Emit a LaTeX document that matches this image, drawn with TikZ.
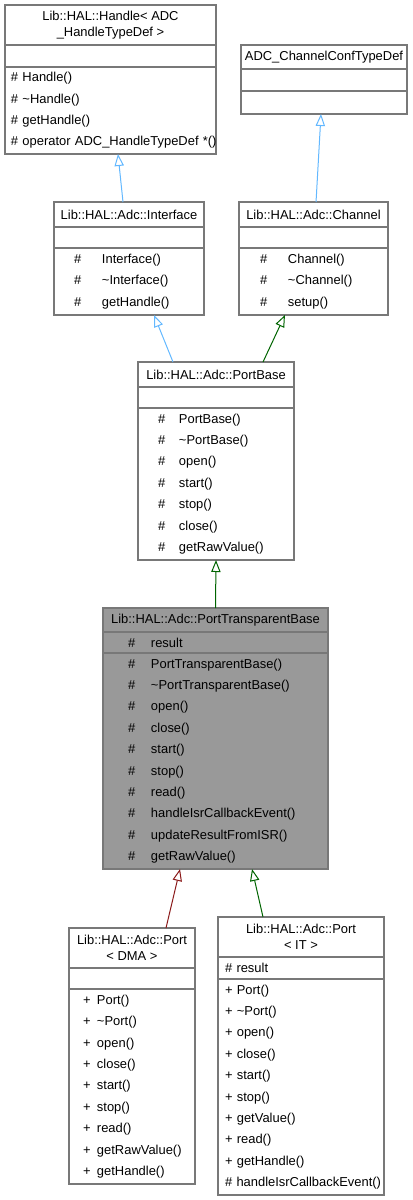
\documentclass[tikz,border=0pt]{standalone}
\usepackage{fontspec}
\setmainfont{Liberation Sans}
\usetikzlibrary{arrows.meta, positioning}
\definecolor{umlGray}{RGB}{120,120,120}
\definecolor{umlHighlight}{RGB}{153,153,153}
\definecolor{inhBlue}{RGB}{99,184,255}
\definecolor{inhGreen}{RGB}{0,100,0}
\definecolor{inhRed}{RGB}{139,26,26}
\newlength{\symgap}
\newcommand{\mrow}[2]{\makebox[\symgap][l]{#1}\mbox{#2}}

\begin{document}
\begin{tikzpicture}[
    x=0.75pt, y=-0.75pt,
    font=\fontsize{9.7}{16.05}\selectfont,
    box/.style     = {draw=umlGray, line width=0.9pt, fill=white,
                      anchor=north west, inner ysep=0pt, outer sep=0pt},
    title/.style 2 args = {box, minimum width=#1, minimum height=#2,
                      inner xsep=0pt, align=center,
                      font=\fontsize{9.7}{11.8}\selectfont},
    part/.style n args = {4}{box, minimum height=#1, text width=#2,
                      inner xsep=#3, align=left, colgap=#4},
    colgap/.code   = {\global\symgap=#1\relax},
    inherit/.style = {-{Triangle[length=9pt,width=7pt,fill=white]},
                      line width=0.75pt, draw=#1}
]
\useasboundingbox (0,0) rectangle (413,1200);

% Handle< ADC_HandleTypeDef >
\node[title={158.25pt}{30pt}] (hdlT) at (5,5) {Lib::HAL::Handle< ADC\\\_HandleTypeDef >};
\node[part={16.5pt}{149.25pt}{4.5pt}{0pt}] (hdlA) at (hdlT.south west) {};
\node[part={65.25pt}{149.25pt}{4.5pt}{0pt}] (hdlM) at (hdlA.south west)
    {\#~Handle()\\ \#~\textasciitilde Handle()\\ \#~getHandle()\\
     \mbox{\#~operator~ADC\_HandleTypeDef~*()}};

% ADC_ChannelConfTypeDef
\node[title={124.5pt}{18pt}] (chcT) at (241,45) {ADC\_ChannelConfTypeDef};
\node[part={16.5pt}{115.5pt}{4.5pt}{0pt}] (chcA) at (chcT.south west) {};
\node[part={17.25pt}{115.5pt}{4.5pt}{0pt}] (chcM) at (chcA.south west) {};

% Interface
\node[title={112.5pt}{18.75pt}] (ifT) at (54,202) {Lib::HAL::Adc::Interface};
\node[part={15.75pt}{82.5pt}{15pt}{21pt}] (ifA) at (ifT.south west) {};
\node[part={50.25pt}{82.5pt}{15pt}{21pt}] (ifM) at (ifA.south west)
    {\mrow{\#}{Interface()}\\ \mrow{\#}{\textasciitilde Interface()}\\ \mrow{\#}{getHandle()}};

% Channel
\node[title={111.75pt}{18.75pt}] (chT) at (239,202) {Lib::HAL::Adc::Channel};
\node[part={15.75pt}{80.25pt}{15.75pt}{21pt}] (chA) at (chT.south west) {};
\node[part={50.25pt}{80.25pt}{15.75pt}{21pt}] (chM) at (chA.south west)
    {\mrow{\#}{Channel()}\\ \mrow{\#}{\textasciitilde Channel()}\\ \mrow{\#}{setup()}};

% PortBase
\node[title={117pt}{18.75pt}] (pbT) at (138,362) {Lib::HAL::Adc::PortBase};
\node[part={15.75pt}{87pt}{15pt}{15.75pt}] (pbA) at (pbT.south west) {};
\node[part={114pt}{87pt}{15pt}{15.75pt}] (pbM) at (pbA.south west)
    {\mrow{\#}{PortBase()}\\ \mrow{\#}{\textasciitilde PortBase()}\\ \mrow{\#}{open()}\\
     \mrow{\#}{start()}\\ \mrow{\#}{stop()}\\ \mrow{\#}{close()}\\ \mrow{\#}{getRawValue()}};

% PortTransparentBase (the class this diagram is about)
\node[title={168.75pt}{18pt}, fill=umlHighlight] (ptbT) at (103,608) {Lib::HAL::Adc::PortTransparentBase};
\node[part={15.75pt}{131.25pt}{18.75pt}{17.25pt}, fill=umlHighlight] (ptbA) at (ptbT.south west)
    {\mrow{\#}{result}};
\node[part={162pt}{131.25pt}{18.75pt}{17.25pt}, fill=umlHighlight] (ptbM) at (ptbA.south west)
    {\mrow{\#}{PortTransparentBase()}\\ \mrow{\#}{\textasciitilde PortTransparentBase()}\\
     \mrow{\#}{open()}\\ \mrow{\#}{close()}\\ \mrow{\#}{start()}\\ \mrow{\#}{stop()}\\
     \mrow{\#}{read()}\\ \mrow{\#}{handleIsrCallbackEvent()}\\
     \mrow{\#}{updateResultFromISR()}\\ \mrow{\#}{getRawValue()}};

% Port< DMA >
\node[title={94.5pt}{30pt}] (dmaT) at (69,928) {Lib::HAL::Adc::Port\\< DMA >};
\node[part={15.75pt}{73.5pt}{10.5pt}{10.5pt}] (dmaA) at (dmaT.south west) {};
\node[part={146.25pt}{73.5pt}{10.5pt}{10.5pt}] (dmaM) at (dmaA.south west)
    {\mrow{+}{Port()}\\ \mrow{+}{\textasciitilde Port()}\\ \mrow{+}{open()}\\
     \mrow{+}{close()}\\ \mrow{+}{start()}\\ \mrow{+}{stop()}\\ \mrow{+}{read()}\\
     \mrow{+}{getRawValue()}\\ \mrow{+}{getHandle()}};

% Port< IT >
\node[title={124.5pt}{30pt}] (itT) at (218,917) {Lib::HAL::Adc::Port\\< IT >};
\node[part={16.5pt}{114pt}{5.25pt}{0pt}] (itA) at (itT.south west) {\#~result};
\node[part={162pt}{114pt}{5.25pt}{0pt}] (itM) at (itA.south west)
    {+~Port()\\ +~\textasciitilde Port()\\ +~open()\\ +~close()\\ +~start()\\
     +~stop()\\ +~getValue()\\ +~read()\\ +~getHandle()\\ \mbox{\#~handleIsrCallbackEvent()}};

% Inheritance arrows
\draw[inherit=inhBlue]  ([xshift=-4.5pt]ifT.north)   -- ([xshift=5.6pt]hdlM.south);
\draw[inherit=inhBlue]  ([xshift=1.9pt]chT.north)    -- ([xshift=-2.25pt]chcM.south);
\draw[inherit=inhBlue]  ([xshift=-32.25pt]pbT.north) -- ([xshift=18.75pt]ifM.south);
\draw[inherit=inhGreen] ([xshift=35.25pt]pbT.north)  -- ([xshift=-21.4pt]chM.south);
\draw[inherit=inhGreen] (ptbT.north) -- (pbM.south);
\draw[inherit=inhRed]   ([xshift=25.5pt]dmaT.north)  -- ([xshift=-26.6pt]ptbM.south);
\draw[inherit=inhGreen] ([xshift=-28.5pt]itT.north)  -- ([xshift=27.4pt]ptbM.south);

\end{tikzpicture}
\end{document}
